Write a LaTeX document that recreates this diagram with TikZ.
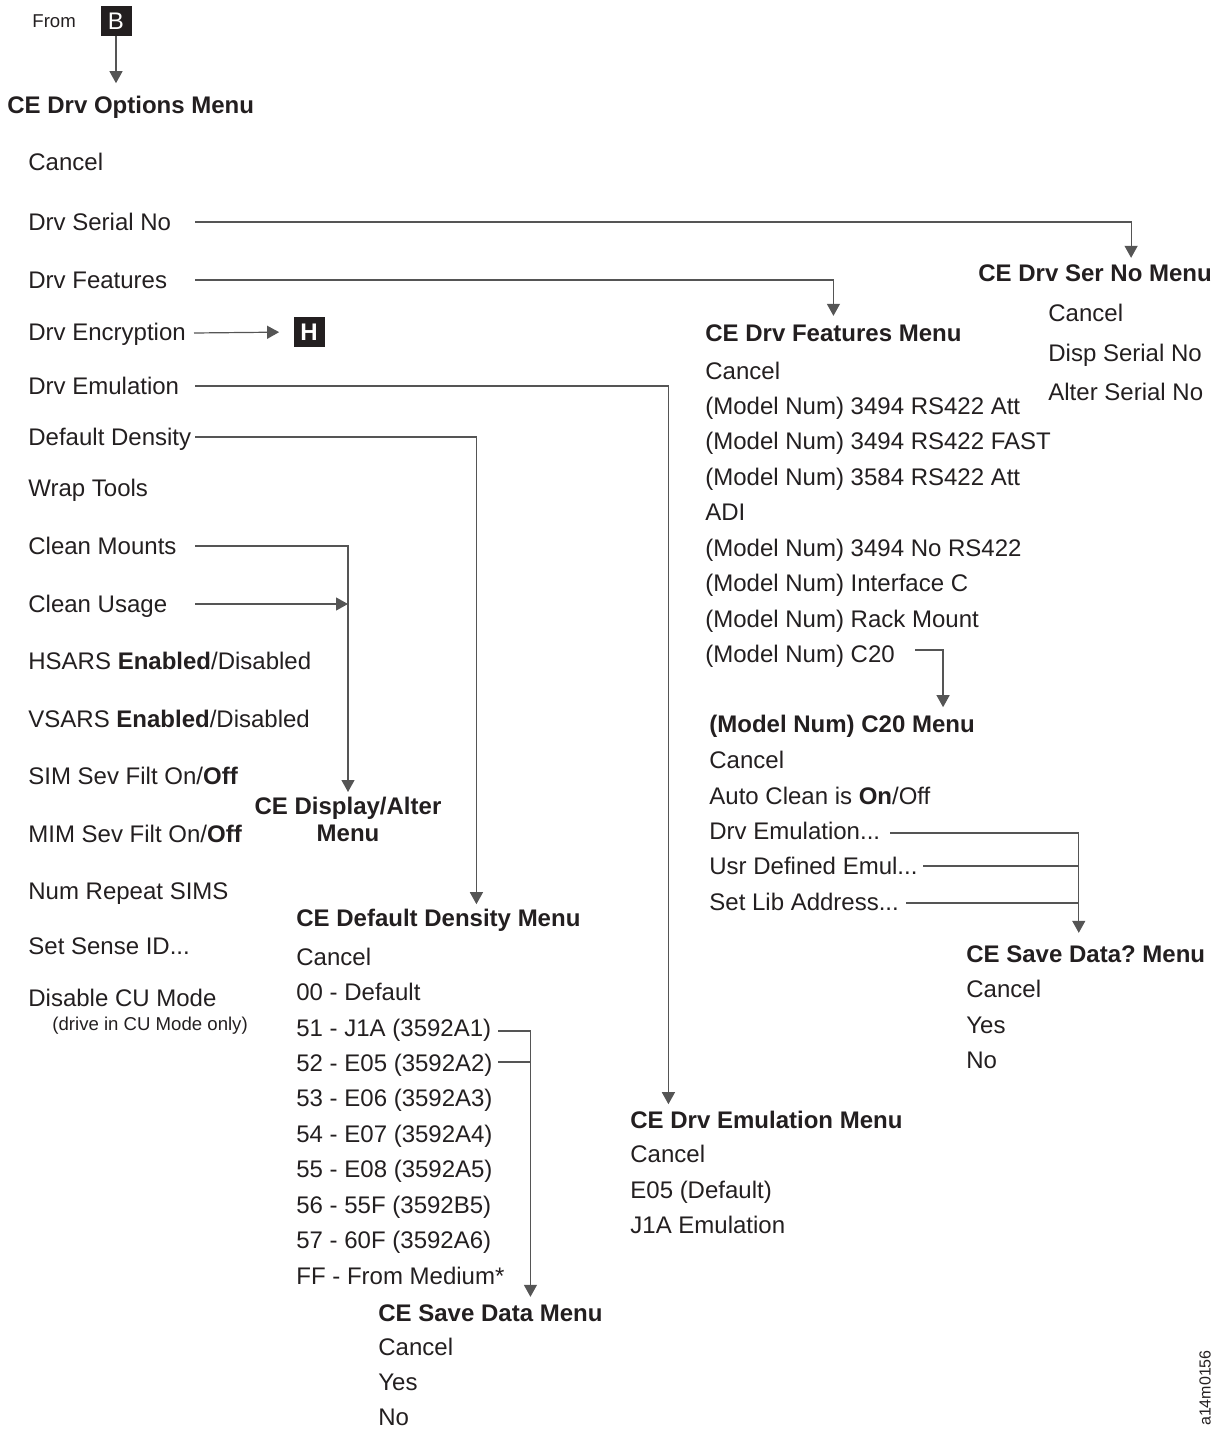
\documentclass[tikz,border=0pt]{standalone}
\usepackage{fontspec}
\setmainfont{Liberation Sans}
\usepackage{xcolor}
\usepackage{tikz}
\usetikzlibrary{arrows.meta, positioning}
\definecolor{cetext}{RGB}{35,31,32}
\definecolor{celine}{RGB}{85,85,85}
\frenchspacing

\begin{document}
\begin{tikzpicture}[
  x=0.5pt, y=-0.5pt,
  every node/.style={inner sep=0pt, text=cetext},
  item/.style={anchor=base west, font=\fontsize{12}{14}\selectfont},
  title/.style={anchor=base west, font=\fontsize{12}{13.5}\selectfont\bfseries},
  small/.style={anchor=base west, font=\fontsize{9.3}{11}\selectfont},
  tag/.style={fill=cetext, text=white, minimum width=15.5pt, minimum height=15pt,
              font=\fontsize{12}{14}\selectfont},
  link/.style={draw=celine, line width=0.6pt},
  arr/.style={link, -{Triangle[length=6pt, width=6.5pt]}},
]
\useasboundingbox (0,0) rectangle (1217,1429);

% entry point
\node[small] (from) at (32,28) {From};
\node[tag] (tagB) at (116,21) {B};

% CE Drv Options Menu
\node[title] (optT)  at (7,113)   {CE Drv Options Menu};
\node[item] (optCan) at (28,170)  {Cancel};
\node[item] (optSer) at (28,230)  {Drv Serial No};
\node[item] (optFea) at (28,288)  {Drv Features};
\node[item] (optEnc) at (28,340)  {Drv Encryption};
\node[item] (optEmu) at (28,394)  {Drv Emulation};
\node[item] (optDen) at (28,445)  {Default Density};
\node[item] (optWrp) at (28,496)  {Wrap Tools};
\node[item] (optCm)  at (28,554)  {Clean Mounts};
\node[item] (optCu)  at (28,612)  {Clean Usage};
\node[item] (optHs)  at (28,669)  {HSARS \textbf{Enabled}/Disabled};
\node[item] (optVs)  at (28,727)  {VSARS \textbf{Enabled}/Disabled};
\node[item] (optSim) at (28,784)  {SIM Sev Filt On/\textbf{Off}};
\node[item] (optMim) at (28,842)  {MIM Sev Filt On/\textbf{Off}};
\node[item] (optNum) at (28,899)  {Num Repeat SIMS};
\node[item] (optSid) at (28,954)  {Set Sense ID...};
\node[item] (optDcu) at (28,1006) {Disable CU Mode};
\node[small] (optDcuN) at (52,1030) {(drive in CU Mode only)};

\node[tag, font=\fontsize{12}{14}\selectfont\bfseries] (tagH) at (309,332) {H};

% CE Drv Ser No Menu
\node[title] (serT)  at (978,281)  {CE Drv Ser No Menu};
\node[item] (serCan) at (1048,321) {Cancel};
\node[item] (serDsp) at (1048,361) {Disp Serial No};
\node[item] (serAlt) at (1048,400) {Alter Serial No};

% CE Drv Features Menu
\node[title] (feaT)  at (705,341) {CE Drv Features Menu};
\node[item] (feaCan) at (705,379) {Cancel};
\node[item] (feaAtt) at (705,414) {(Model Num) 3494 RS422 Att};
\node[item] (feaFst) at (705,449) {(Model Num) 3494 RS422 FAST};
\node[item] (fea84)  at (705,485) {(Model Num) 3584 RS422 Att};
\node[item] (feaAdi) at (705,520) {ADI};
\node[item] (feaNo)  at (705,556) {(Model Num) 3494 No RS422};
\node[item] (feaIfc) at (705,591) {(Model Num) Interface C};
\node[item] (feaRck) at (705,627) {(Model Num) Rack Mount};
\node[item] (feaC20) at (705,662) {(Model Num) C20};

% (Model Num) C20 Menu
\node[title] (c20T)  at (709,732) {(Model Num) C20 Menu};
\node[item] (c20Can) at (709,768) {Cancel};
\node[item] (c20Acl) at (709,804) {Auto Clean is \textbf{On}/Off};
\node[item] (c20Emu) at (709,839) {Drv Emulation...};
\node[item] (c20Usr) at (709,874) {Usr Defined Emul...};
\node[item] (c20Lib) at (709,910) {Set Lib Address...};

% CE Save Data? Menu
\node[title] (svqT)  at (966,962)  {CE Save Data? Menu};
\node[item] (svqCan) at (966,997)  {Cancel};
\node[item] (svqYes) at (966,1033) {Yes};
\node[item] (svqNo)  at (966,1068) {No};

% CE Display/Alter Menu
\node[font=\fontsize{12}{13.5}\selectfont\bfseries, align=center, anchor=north]
  (dspT) at (348,797) {CE Display/Alter\\Menu};

% CE Default Density Menu
\node[title] (denT)  at (296,926)  {CE Default Density Menu};
\node[item] (denCan) at (296,965)  {Cancel};
\node[item] (den00)  at (296,1000) {00 - Default};
\node[item] (den51)  at (296,1036) {51 - J1A (3592A1)};
\node[item] (den52)  at (296,1071) {52 - E05 (3592A2)};
\node[item] (den53)  at (296,1106) {53 - E06 (3592A3)};
\node[item] (den54)  at (296,1142) {54 - E07 (3592A4)};
\node[item] (den55)  at (296,1177) {55 - E08 (3592A5)};
\node[item] (den56)  at (296,1213) {56 - 55F (3592B5)};
\node[item] (den57)  at (296,1248) {57 - 60F (3592A6)};
\node[item] (denFF)  at (296,1284) {FF - From Medium*};

% CE Save Data Menu
\node[title] (svT)  at (378,1321) {CE Save Data Menu};
\node[item] (svCan) at (378,1355) {Cancel};
\node[item] (svYes) at (378,1390) {Yes};
\node[item] (svNo)  at (378,1425) {No};

% CE Drv Emulation Menu
\node[title] (emuT)  at (630,1128) {CE Drv Emulation Menu};
\node[item] (emuCan) at (630,1162) {Cancel};
\node[item] (emuDef) at (630,1198) {E05 (Default)};
\node[item] (emuJ1a) at (630,1233) {J1A Emulation};

\node[rotate=90, font=\fontsize{8}{9}\selectfont] (figid) at (1205,1388) {a14m0156};

% connector start points
\coordinate (serS) at (195,222);
\coordinate (feaS) at (195,280);
\coordinate (encS) at (194,333);
\coordinate (emuS) at (195,386);
\coordinate (denS) at (195,437);
\coordinate (cmS)  at (195,546);
\coordinate (cuS)  at (195,604);
\coordinate (c20S) at (915,650);
\coordinate (c20emuS) at (890,833);
\coordinate (c20usrS) at (923,866);
\coordinate (c20libS) at (906,903);
\coordinate (den51S) at (498,1031);
\coordinate (den52S) at (498,1062);

\draw[arr, shorten >=6pt] (tagB.south) -- (tagB.south |- optT.north);
\draw[arr, shorten >=3pt] (serS) -| ([xshift=18pt]serT.north);
\draw[arr, shorten >=4pt] (feaS) -| (feaT.north);
\draw[arr, shorten >=7pt] (encS) -- (tagH.west);
\draw[arr, shorten >=3pt] (emuS) -| ([xshift=-49pt]emuT.north);
\draw[arr, shorten >=2pt] (denS) -| ([xshift=19pt]denT.north);
\draw[arr, shorten >=2.5pt] (cmS) -| (dspT.north);
\draw[arr] (cuS) -- (cuS -| dspT.north);
\draw[arr, shorten >=3.5pt] (c20S) -| ([xshift=50.5pt]c20T.north);

\coordinate (svqIn) at ([xshift=-3.5pt]svqT.north);
\draw[arr, shorten >=6pt] (c20emuS) -| (svqIn);
\draw[link] (c20usrS) -- (c20usrS -| svqIn);
\draw[link] (c20libS) -- (c20libS -| svqIn);

\coordinate (svIn) at ([xshift=20pt]svT.north);
\draw[arr, shorten >=3.5pt] (den51S) -| (svIn);
\draw[link] (den52S) -- (den52S -| svIn);

\end{tikzpicture}
\end{document}
